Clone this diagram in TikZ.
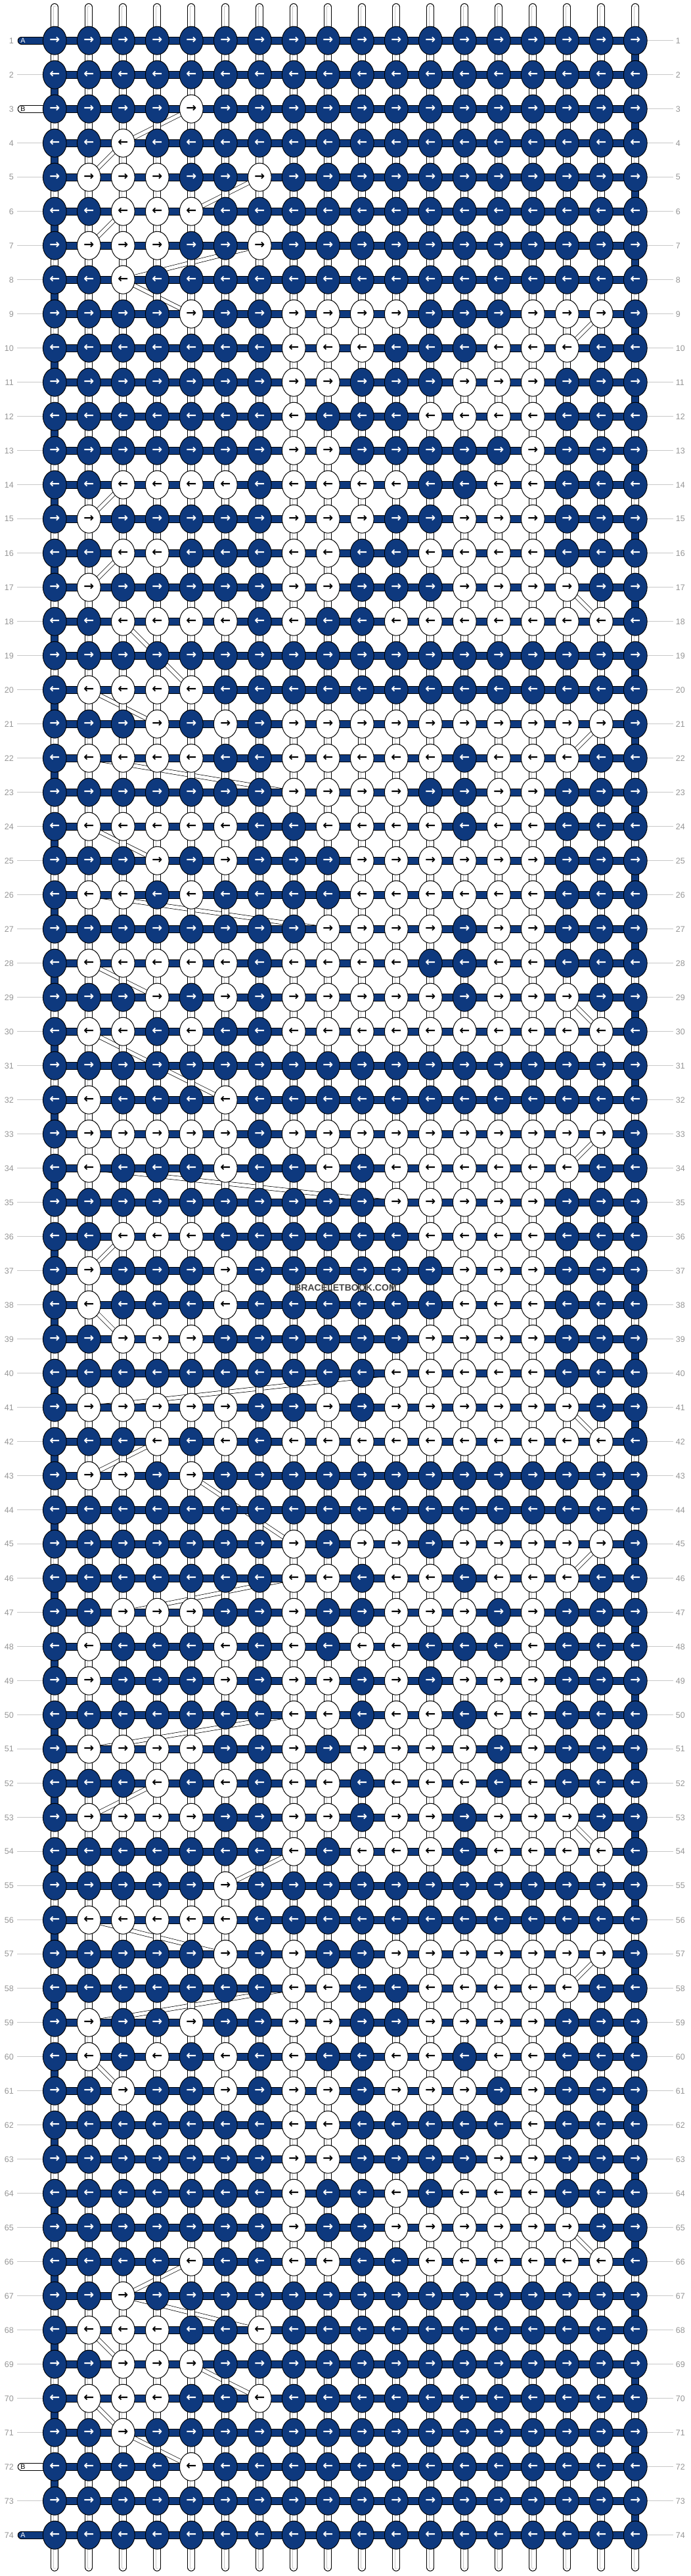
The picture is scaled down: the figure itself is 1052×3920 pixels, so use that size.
\documentclass[tikz,border=0pt]{standalone}
\usepackage{fontspec}
\setmainfont{Liberation Sans}
\newfontfamily\arrowfont{DejaVu Sans}
\usetikzlibrary{
    positioning,     % For relative node placement
    shapes.geometric,% For the ellipse knots
    calc             % For offsets from the knot positions
}
\definecolor{knotblue}{RGB}{14, 57, 126}
\definecolor{guidegray}{RGB}{200, 200, 200}
\definecolor{numgray}{RGB}{150, 150, 150}

\begin{document}
\begin{tikzpicture}[
    x=0.025cm, y=-0.025cm, % one unit = one pixel of the chart, y runs downwards
    % Styles
    knot/.style={ % Style for every knot
        ellipse,
        draw=black,
        line width=0.7pt,
        minimum width=0.8925cm,
        minimum height=1.075cm,
        inner sep=0pt,
        font=\arrowfont\bfseries\fontsize{13.5}{14}\selectfont
    },
    knotA/.style={knot, fill=knotblue, text=white}, % background colour knot
    knotB/.style={knot, fill=white, text=black},    % pattern colour knot
    warp/.style={ % vertical strings
        draw=black, line width=0.7pt,
        double=white, double distance=0.2425cm,
        line cap=round
    },
    warpline/.style={ % the two grey lines inside a warp string
        draw=gray!45, line width=0.4pt,
        double=white, double distance=0.075cm,
        line cap=round
    },
    turn/.style={draw=black, line width=0.7pt, double=knotblue, double distance=0.2425cm},
    weft/.style={draw=black, line width=0.7pt, double=knotblue, double distance=0.2575cm},
    tabA/.style={weft, line cap=round},
    tabB/.style={draw=black, line width=0.7pt, double=white, double distance=0.2575cm, line cap=round},
    bstrand/.style={draw=black, line width=0.5pt, double=white, double distance=0.13cm},
    guide/.style={guidegray, line width=0.7pt},
    rownum/.style={inner sep=0pt, text=numgray, font=\fontsize{8.9}{10}\selectfont},
    tabletter/.style={inner sep=0pt, font=\fontsize{7.6}{8}\selectfont},
    watermark/.style={inner sep=1pt, text=black!72, font=\bfseries\fontsize{10}{11}\selectfont}
]

% --- Page ---
\fill[white] (0,0) rectangle (1052,3920);
\useasboundingbox (0,0) rectangle (1052,3920);

% Pattern: row / columns holding the white (B) knots, 0 = none
\def\rowdata{1/{0},2/{0},3/{5},4/{3},5/{2,3,4,7},6/{3,4,5},7/{2,3,4,7},8/{3},%
9/{5,8,9,10,11,15,16,17},10/{8,9,10,14,15,16},11/{8,9,13,14,15},12/{8,12,13,14,15},13/{8,9,15},%
14/{3,4,5,6,8,9,10,11,14,15},15/{2,8,9,10,13,14,15},16/{3,4,8,9,12,13,14,15},17/{2,8,9,13,14,15,16},%
18/{3,4,5,6,8,11,12,13,14,15,16,17},19/{0},20/{2,3,4,5},21/{4,6,8,9,10,11,12,13,14,15,16,17},%
22/{2,3,4,5,8,9,10,11,12,14,15,16},23/{8,9,10,11,14,15},24/{2,3,4,5,6,9,10,11,12,14,15},%
25/{4,6,10,11,12,13,14,15},26/{2,3,5,10,11,12,13,14,15},27/{9,10,11,12,14,15},%
28/{2,3,4,5,6,8,9,10,11,14,15},29/{4,6,8,9,10,11,12,14,15,16},30/{2,3,5,8,9,10,11,12,13,14,15,16,17},%
31/{0},32/{2,6},33/{2,3,4,5,6,8,9,10,11,12,13,14,15,16,17},34/{2,6,9,11,12,13,14,15,16},%
35/{11,12,13,14,15},36/{3,4,5,12,13,14,15},37/{2,6,13,14,15},38/{2,6,13,14,15},39/{3,4,5,12,13,14,15},%
40/{11,12,13,14,15},41/{2,3,4,5,6,9,11,12,13,14,15,16},42/{4,6,8,9,10,11,12,13,14,15,16,17},%
43/{2,3,5},44/{0},45/{8,10,11,13,14,15,16,17},46/{8,9,11,12,14,15,16},47/{3,4,5,8,11,12,13,15},%
48/{2,6,8,10,11,15},49/{2,6,8,9,11,13,14,15},50/{8,9,11,12,14,15},51/{2,3,4,5,8,10,11,12,13,15},%
52/{4,6,8,9,11,12,13,15},53/{2,3,4,5,8,9,11,12,14,15,16},54/{8,10,11,12,14,15,16,17},55/{6},%
56/{2,3,4,5,6},57/{6,8,11,12,13,14,15,16,17},58/{8,9,12,13,14,15,16},59/{2,5,8,9,12,13,14,15},%
60/{2,4,6,8,11,12,14,15},61/{3,6,8,9,11,12,13,15},62/{8,9,15},63/{8,9,14,15},64/{8,11,13,14,15},%
65/{8,11,12,13,14,15,16},66/{5,8,9,12,13,14,15,16,17},67/{3},68/{2,3,4,7},69/{3,4,5},70/{2,3,4,7},%
71/{3},72/{5},73/{0},74/{0}}

% --- Knot positions ---
\foreach \r in {1,...,74} {
    \foreach \c in {1,...,18} {
        \coordinate (p-\r-\c) at ({83.3+52*(\c-1)}, {61.7+52*(\r-1)});
    }
}
% Where strings A and B enter and leave on the left
\coordinate (tabA-1) at ($(p-1-1)+(-50.45,0)$);
\coordinate (tabB-3) at ($(p-3-1)+(-50.45,0)$);
\coordinate (tabB-72) at ($(p-72-1)+(-50.45,0)$);
\coordinate (tabA-74) at ($(p-74-1)+(-50.45,0)$);

% --- String B, from one white knot to the next, in knotting order ---
\gdef\lastknot{tabB-3}
\foreach \r/\wl in \rowdata {
    \foreach \i in {1,...,18} {
        % odd rows are knotted left to right, even rows right to left
        \ifodd\r \edef\col{\i}\else \pgfmathtruncatemacro{\col}{19-\i}\fi
        \gdef\isw{0}
        \foreach \w in \wl {\ifnum\w=\col\relax \gdef\isw{1}\fi}
        \ifnum\isw=1
            \draw[bstrand] (\lastknot) -- (p-\r-\col);
            \xdef\lastknot{p-\r-\col}
        \fi
    }
}
\draw[bstrand] (\lastknot) -- (tabB-72);

% --- Warp strings (vertical) ---
\foreach \c in {1,...,18} {
    \coordinate (top-\c) at ($(p-1-\c)+(0,-50.85)$);
    \coordinate (bot-\c) at ($(p-74-\c)+(0,49.3)$);
    \draw[warp] (top-\c) -- (bot-\c);
    \draw[warpline] (top-\c) -- (bot-\c);
}

% --- String A turning round at the edges ---
\foreach \r in {1,3,...,73} {
    \pgfmathtruncatemacro{\rn}{\r+1}
    \draw[turn] (p-\r-18) -- (p-\rn-18);
}
\foreach \r in {2,4,...,72} {
    \pgfmathtruncatemacro{\rn}{\r+1}
    \draw[turn] (p-\r-1) -- (p-\rn-1);
}

% --- Rows of string A ---
\foreach \r in {1,...,74} {
    \draw[weft] (p-\r-1) -- (p-\r-18);
}

% --- Tabs A / B ---
\draw[tabA] (tabA-1) -- (p-1-1);
\draw[tabB] (tabB-3) -- (p-3-1);
\draw[tabB] (tabB-72) -- (p-72-1);
\draw[tabA] (tabA-74) -- (p-74-1);
\node[tabletter, text=white] (ta-1) at ($(p-1-1)+(-48.3,0)$) {A};
\node[tabletter, text=black] (tb-3) at ($(p-3-1)+(-48.3,0)$) {B};
\node[tabletter, text=black] (tb-72) at ($(p-72-1)+(-48.3,0)$) {B};
\node[tabletter, text=white] (ta-74) at ($(p-74-1)+(-48.3,0)$) {A};

% --- Row numbers ---
\foreach \r in {1,...,74} {
    \node[rownum, anchor=east] (nl-\r) at ($(p-\r-1)+(-62.3,0)$) {\r};
    \node[rownum, anchor=west] (nr-\r) at ($(p-\r-18)+(61.3,0)$) {\r};
    \draw[guide, shorten >=0.1cm] (p-\r-18) -- (nr-\r.west);
}
\foreach \r in {2,4,5,...,71,73} {
    \draw[guide, shorten <=0.13cm] (nl-\r.east) -- (p-\r-1);
}

% --- Knots ---
\foreach \r/\wl in \rowdata {
    \ifodd\r \def\karrow{→}\else \def\karrow{←}\fi
    \foreach \c in {1,...,18} {
        \gdef\isw{0}
        \foreach \w in \wl {\ifnum\w=\c\relax \gdef\isw{1}\fi}
        \ifnum\isw=1 \def\kstyle{knotB}\else \def\kstyle{knotA}\fi
        \node[\kstyle] (k-\r-\c) at (p-\r-\c) {\karrow};
    }
}

% --- Watermark ---
\node[watermark] (wm) at (526,1960) {BRACELETBOOK.COM};

\end{tikzpicture}
\end{document}
